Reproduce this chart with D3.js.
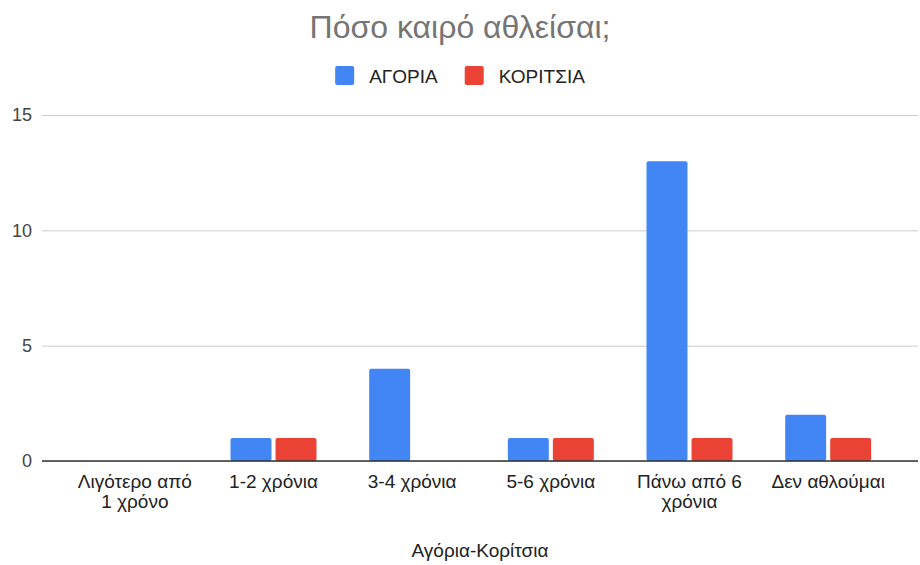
<!DOCTYPE html>
<html>
<head>
<meta charset="utf-8">
<script src="https://cdnjs.cloudflare.com/ajax/libs/d3/7.8.5/d3.min.js"></script>
<style>
  body { margin: 0; background: #fff; }
  text { font-family: "Liberation Sans", Arial, sans-serif; }
</style>
</head>
<body>
<div id="chart"></div>
<script>
// data
var categories = ["Λιγότερο από 1 χρόνο", "1-2 χρόνια", "3-4 χρόνια", "5-6 χρόνια", "Πάνω από 6 χρόνια", "Δεν αθλούμαι"];
var series = ["ΑΓΟΡΙΑ", "ΚΟΡΙΤΣΙΑ"];
var boys  = [0, 1, 4, 1, 13, 2];
var girls = [0, 1, 0, 1, 1, 1];
var yTicks = [0, 5, 10, 15];
var colors = ["#4285f4", "#ea4335"];

var W = 920, H = 565;
var svg = d3.select("#chart").append("svg")
    .attr("width", W).attr("height", H);

// build rows for grouped bars
var rows = categories.map(function(c, i) {
    return {group: c, values: [boys[i], girls[i]]};
});

var gridLeft = 42, gridRight = 918;

var x = d3.scaleBand()
    .domain(categories)
    .range([65.5, 897.5])
    .paddingInner(0.38)
    .paddingOuter(0.19);

var xSub = d3.scaleBand()
    .domain(series)
    .range([0, x.bandwidth()])
    .paddingInner(0.09);

var y = d3.scaleLinear()
    .domain([0, 15])
    .range([461, 115]);

// title
svg.append("text")
    .attr("x", 460).attr("y", 38)
    .attr("text-anchor", "middle")
    .attr("font-size", 32)
    .attr("fill", "#757575")
    .text("Πόσο καιρό αθλείσαι;");

// legend, centred
var legend = svg.append("g");
var lx = 0;
series.forEach(function(s, i) {
    var g = legend.append("g").attr("transform", "translate(" + lx + ",0)");
    g.append("rect")
        .attr("x", 0).attr("y", 66)
        .attr("width", 19).attr("height", 19)
        .attr("rx", 2)
        .attr("fill", colors[i]);
    var t = g.append("text")
        .attr("x", 34).attr("y", 83)
        .attr("font-size", 19)
        .attr("fill", "#222")
        .text(s);
    lx += 34 + t.node().getComputedTextLength() + 27;
});
var lw = lx - 27;
legend.attr("transform", "translate(" + (460 - lw / 2) + ",0)");

// grid lines + y labels
var yAxis = svg.append("g")
    .attr("transform", "translate(" + gridLeft + ",0)")
    .call(d3.axisLeft(y).tickValues(yTicks).tickSize(-(gridRight - gridLeft)).tickPadding(10));
yAxis.select(".domain").remove();
yAxis.selectAll(".tick line").attr("stroke", "#cccccc");
yAxis.selectAll(".tick text")
    .attr("font-size", 18)
    .attr("fill", "#444")
    .attr("font-family", "Liberation Sans, Arial, sans-serif");

// bars
svg.append("g")
    .selectAll("g")
    .data(rows)
    .enter().append("g")
    .attr("transform", function(d) { return "translate(" + x(d.group) + ",0)"; })
    .selectAll("rect")
    .data(function(d) { return d.values.map(function(v, i) { return {key: series[i], value: v, i: i}; }); })
    .enter().append("rect")
    .filter(function(d) { return d.value > 0; })
    .attr("x", function(d) { return xSub(d.key); })
    .attr("y", function(d) { return y(d.value); })
    .attr("width", xSub.bandwidth())
    .attr("height", function(d) { return y(0) - y(d.value); })
    .attr("rx", 2)
    .attr("fill", function(d) { return colors[d.i]; });

// baseline
svg.append("line")
    .attr("x1", gridLeft).attr("x2", gridRight)
    .attr("y1", y(0)).attr("y2", y(0))
    .attr("stroke", "#333").attr("stroke-width", 1.5);

// x labels, wrapped
var xAxis = svg.append("g")
    .attr("transform", "translate(0," + y(0) + ")")
    .call(d3.axisBottom(x).tickSize(0).tickPadding(0));
xAxis.select(".domain").remove();
xAxis.selectAll(".tick text")
    .attr("font-size", 19)
    .attr("fill", "#222")
    .attr("font-family", "Liberation Sans, Arial, sans-serif")
    .attr("dy", null)
    .attr("y", null)
    .each(function(d) {
        var self = d3.select(this);
        var words = d.split(" ");
        var lines = [], line = [];
        words.forEach(function(w) {
            self.text(line.concat([w]).join(" "));
            if (line.length && self.node().getComputedTextLength() > 122) {
                lines.push(line.join(" "));
                line = [w];
            } else {
                line.push(w);
            }
        });
        lines.push(line.join(" "));
        self.text("");
        lines.forEach(function(l, k) {
            self.append("tspan")
                .attr("x", 0)
                .attr("y", 27 + k * 20)
                .text(l);
        });
    });

// axis title
svg.append("text")
    .attr("x", (gridLeft + gridRight) / 2).attr("y", 557)
    .attr("text-anchor", "middle")
    .attr("font-size", 19)
    .attr("fill", "#222")
    .text("Αγόρια-Κορίτσια");
</script>
</body>
</html>
